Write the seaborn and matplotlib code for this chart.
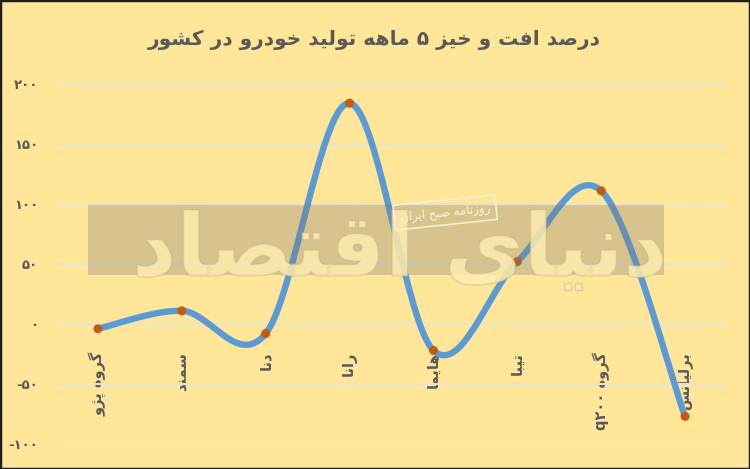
import re
import numpy as np
import pandas as pd
import matplotlib
matplotlib.use("Agg")
import matplotlib.pyplot as plt
import matplotlib.patheffects as pe
from matplotlib.patches import Rectangle
import seaborn as sns

# داده ها (خوانده شده از تصویر)
cars = ["گروه پژو", "سمند", "دنا", "رانا", "هایما", "تیبا", "گروه q۲۰۰", "برلیانس"]
change = [-4, 11, -8, 184, -22, 52, 111, -77]
yticks = [-100, -50, 0, 50, 100, 150, 200]
ytick_labels = ["-۱۰۰", "-۵۰", "۰", "۵۰", "۱۰۰", "۱۵۰", "۲۰۰"]
title = "درصد افت و خیز ۵ ماهه تولید خودرو در کشور"

# matplotlib حروف عربی را به هم نمی چسباند، پس خودمان شکل حروف را می سازیم
FORMS = {
    'ا': ('\uFE8D', '\uFE8E'), 'ب': ('\uFE8F', '\uFE90', '\uFE91', '\uFE92'),
    'ت': ('\uFE95', '\uFE96', '\uFE97', '\uFE98'), 'ح': ('\uFEA1', '\uFEA2', '\uFEA3', '\uFEA4'),
    'خ': ('\uFEA5', '\uFEA6', '\uFEA7', '\uFEA8'), 'د': ('\uFEA9', '\uFEAA'),
    'ر': ('\uFEAD', '\uFEAE'), 'ز': ('\uFEAF', '\uFEB0'),
    'س': ('\uFEB1', '\uFEB2', '\uFEB3', '\uFEB4'), 'ش': ('\uFEB5', '\uFEB6', '\uFEB7', '\uFEB8'),
    'ص': ('\uFEB9', '\uFEBA', '\uFEBB', '\uFEBC'), 'ف': ('\uFED1', '\uFED2', '\uFED3', '\uFED4'),
    'ق': ('\uFED5', '\uFED6', '\uFED7', '\uFED8'), 'ل': ('\uFEDD', '\uFEDE', '\uFEDF', '\uFEE0'),
    'م': ('\uFEE1', '\uFEE2', '\uFEE3', '\uFEE4'), 'ن': ('\uFEE5', '\uFEE6', '\uFEE7', '\uFEE8'),
    'ه': ('\uFEE9', '\uFEEA', '\uFEEB', '\uFEEC'), 'و': ('\uFEED', '\uFEEE'),
    'پ': ('\uFB56', '\uFB57', '\uFB58', '\uFB59'), 'ژ': ('\uFB8A', '\uFB8B'),
    'ک': ('\uFB8E', '\uFB8F', '\uFB90', '\uFB91'), 'گ': ('\uFB92', '\uFB93', '\uFB94', '\uFB95'),
    'ی': ('\uFEEF', '\uFEF0', '\uFEF3', '\uFEF4'),
}
LTR = r'[0-9A-Za-z\u06F0-\u06F9]+'


def fa(s):
    res = []
    for i, ch in enumerate(s):
        if ch not in FORMS:
            res.append(ch)
            continue
        f = FORMS[ch]
        prev = s[i - 1] if i > 0 else ''
        nxt = s[i + 1] if i + 1 < len(s) else ''
        jp = prev in FORMS and len(FORMS[prev]) == 4
        jn = len(f) == 4 and nxt in FORMS
        if jp and jn:
            res.append(f[3])
        elif jp:
            res.append(f[1])
        elif jn:
            res.append(f[2])
        else:
            res.append(f[0])
    shaped = ''.join(res)
    tokens = re.findall(LTR + r'|[^0-9A-Za-z\u06F0-\u06F9]+', shaped)
    out = []
    for tok in reversed(tokens):
        out.append(tok if re.fullmatch(LTR, tok) else tok[::-1])
    return ''.join(out)


def smooth(xs, ys, n=40):
    # منحنی نرم مثل اکسل (بزیه با نقاط کنترلی یک ششم)
    pts = np.column_stack([xs, ys]).astype(float)
    pad = np.vstack([pts[0], pts, pts[-1]])
    t = np.linspace(0, 1, n)[:, None]
    parts = []
    for i in range(len(pts) - 1):
        p0, p1, p2, p3 = pad[i:i + 4]
        c1 = p1 + (p2 - p0) / 6
        c2 = p2 - (p3 - p1) / 6
        seg = (1 - t) ** 3 * p1 + 3 * (1 - t) ** 2 * t * c1 + 3 * (1 - t) * t ** 2 * c2 + t ** 3 * p2
        parts.append(seg if i == 0 else seg[1:])
    return np.vstack(parts)


bg = '#FFE699'
sns.set_style("whitegrid", {"axes.facecolor": bg, "grid.color": "#E8E3D0"})
plt.rcParams['font.family'] = ['DejaVu Sans']

fig = plt.figure(figsize=(7.5, 4.69), dpi=100, facecolor=bg)
ax = fig.add_axes([0.0747, 0.0533, 0.8946, 0.7676])

tabela = pd.DataFrame({'car': cars, 'change': change, 'pos': range(len(cars))})
curve = smooth(tabela['pos'], tabela['change'])

sns.lineplot(x=curve[:, 0], y=curve[:, 1], sort=False, estimator=None, ax=ax,
             color='#5B9BD5', linewidth=4.6, zorder=3)
sns.scatterplot(data=tabela, x='pos', y='change', ax=ax, color='#C55A11',
                s=42, edgecolor='none', zorder=4)

# اول محل محور رو عوض کن، بعد برچسب ها
ax.spines['bottom'].set_position(('data', 0))
for sp in ax.spines.values():
    sp.set_visible(False)
ax.set_xlim(-0.5, len(cars) - 0.5)
ax.set_ylim(-100, 200)
ax.set_yticks(yticks)
ax.set_yticklabels(ytick_labels, fontsize=9.5, fontweight='bold', color='#595959')
ax.set_xticks(range(len(cars)))
ax.set_xticklabels([fa(c) for c in cars], rotation=90, fontsize=10.5,
                   fontweight='bold', color='#595959', va='top', ha='center')
ax.tick_params(axis='x', length=0, pad=20)
ax.tick_params(axis='y', length=0, pad=13)
ax.grid(axis='x', visible=False)
ax.grid(axis='y', linewidth=1.5)
ax.set_xlabel('')
ax.set_ylabel('')

# واترمارک روزنامه
ax.add_patch(Rectangle((-0.12, 41), 6.87, 58, facecolor='#80756E', alpha=0.3,
                       edgecolor='none', zorder=5))
ax.text(3.6, 60, fa("دنیای اقتصاد"), fontsize=62, fontweight='bold', ha='center',
        va='center', color='#FFEDB0', alpha=0.6, zorder=6,
        path_effects=[pe.withStroke(linewidth=1.5, foreground='#C9B98E')])
ax.text(4.14, 93, fa("روزنامه صبح ایران"), fontsize=8.5, ha='center', va='center',
        color='#FFF6D8', rotation=6, zorder=7,
        bbox=dict(boxstyle='square,pad=0.5', facecolor='none', edgecolor='#FFF6D8', linewidth=1))

fig.text(0.499, 0.915, fa(title), ha='center', va='center', fontsize=14.5,
         fontweight='bold', color='#595959')

fig.patches.append(Rectangle((0, 0), 1, 1, transform=fig.transFigure, fill=False,
                             edgecolor='#1E1E1E', linewidth=2.5))

fig.savefig('out.png', dpi=100, facecolor=bg)
